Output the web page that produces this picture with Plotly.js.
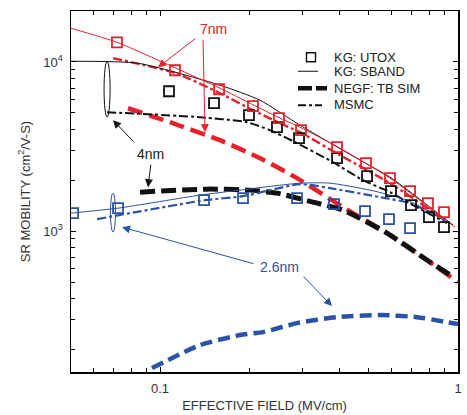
<!DOCTYPE html>
<html>
<head>
<meta charset="utf-8">
<script src="https://cdn.plot.ly/plotly-3.0.1.min.js"></script>
<style>
html,body{margin:0;padding:0;background:#fff;}
#chart{width:467px;height:415px;}
</style>
</head>
<body>
<div id="chart"></div>
<script>
// ---- KG: UTOX (open squares) ----
var utox7nmField = [0.0717, 0.1123, 0.1578, 0.2051, 0.2507, 0.2973, 0.3927, 0.4913, 0.5912, 0.6903, 0.7930, 0.8973];
var utox7nmMob   = [13070, 8930, 6898, 5475, 4649, 3950, 3135, 2522, 2056, 1723, 1463, 1295];
var utox4nmField = [0.1072, 0.1518, 0.1989, 0.2469, 0.2928, 0.3927, 0.4951, 0.5958, 0.6956, 0.7991, 0.8973];
var utox4nmMob   = [6713, 5702, 4843, 4114, 3543, 2699, 2113, 1723, 1424, 1210, 1056];
var utox26Field  = [0.0511, 0.0723, 0.1405, 0.1899, 0.2883, 0.3837, 0.4875, 0.5867, 0.6903];
var utox26Mob    = [1277, 1367, 1524, 1566, 1566, 1443, 1313, 1177, 1041];

// ---- KG: SBAND (thin solid) ----
var sband4nmField = [0.0503, 0.0844, 0.159, 0.2166, 0.295, 0.469, 0.5912, 0.9621];
var sband4nmMob   = [10090, 9824, 7285, 5940, 4227, 2627, 2084, 1085];
var sband7nmField = [0.0503, 0.0717, 0.1132, 0.159, 0.2035, 0.2489, 0.295, 0.4018, 0.5912, 0.977];
var sband7nmMob   = [15810, 13070, 9180, 6992, 5624, 4714, 4114, 3092, 2056, 1056];
var sband26Field  = [0.0503, 0.0723, 0.1362, 0.1855, 0.295, 0.3719, 0.5067, 0.6746, 0.9186];
var sband26Mob    = [1277, 1367, 1632, 1747, 1921, 1921, 1747, 1524, 1130];

// ---- NEGF: TB SIM (thick dashed) ----
var negf7nmField = [0.0781, 0.108, 0.159, 0.2166, 0.2883, 0.4112, 0.5776, 0.7286, 1.0];
var negf7nmMob   = [5326, 4403, 3448, 2699, 2056, 1386, 973, 741, 500];
var negf4nmField = [0.0857, 0.1438, 0.2005, 0.2469, 0.3262, 0.4112, 0.5776, 0.8054, 0.9548];
var negf4nmMob   = [1700, 1771, 1747, 1677, 1483, 1331, 973, 656, 542];
var negf26Field  = [0.0940, 0.1362, 0.1855, 0.2216, 0.2883, 0.3927, 0.5473, 0.7286, 1.0];
var negf26Mob    = [155, 212, 243, 253, 286, 310, 319, 310, 282];

// ---- MSMC (dash-dot) ----
var msmc7nmField = [0.0696, 0.1132, 0.159, 0.2051, 0.2527, 0.295, 0.4018, 0.5912, 0.9044];
var msmc7nmMob   = [10520, 8577, 6533, 5185, 4344, 3844, 2811, 1921, 1161];
var msmc4nmField = [0.0664, 0.1362, 0.1959, 0.2339, 0.2838, 0.3806, 0.4800, 0.5912, 0.7063, 0.9186];
var msmc4nmMob   = [5045, 4714, 4403, 3950, 3356, 2556, 2001, 1700, 1424, 1115];
var msmc26Field  = [0.0615, 0.1416, 0.1899, 0.295, 0.3719, 0.5473, 0.6903, 0.9186];
var msmc26Mob    = [1177, 1524, 1609, 1895, 1795, 1588, 1463, 1161];

// ---- ticks ----
var xTickVals = [0.1, 1];
var xTickText = ['0.1', '1'];
var xMinorVals = [0.06, 0.07, 0.08, 0.09, 0.2, 0.3, 0.4, 0.5, 0.6, 0.7, 0.8, 0.9];
var yTickVals = [1000, 10000];
var yTickText = ['10<sup>3</sup>', '10<sup>4</sup>'];
var yMinorVals = [200, 300, 400, 500, 600, 700, 800, 900, 2000, 3000, 4000, 5000, 6000, 7000, 8000, 9000, 20000];

var legendLabels = ['KG: UTOX', 'KG: SBAND', 'NEGF: TB SIM', 'MSMC'];

var RED = '#e8202a', BLUE = '#2a52a6', BLACK = '#111111';
var DASHDOT = '9px,3px,3px,3px';

function sq(x, y, c) {
  return {x: x, y: y, type: 'scatter', mode: 'markers', showlegend: false,
    marker: {symbol: 'square-open', size: 10, color: c, line: {width: 1.8, color: c}}};
}
function ln(x, y, c, w, dash) {
  return {x: x, y: y, type: 'scatter', mode: 'lines', showlegend: false,
    line: {color: c, width: w, dash: dash || 'solid', shape: 'spline', smoothing: 0.6}};
}

var data = [
  ln(negf26Field, negf26Mob, BLUE, 4.5, '12px,6px'),
  ln(negf7nmField, negf7nmMob, RED, 4.5, '15px,7px'),
  ln(negf4nmField, negf4nmMob, BLACK, 5, '15px,6px'),
  ln(msmc26Field, msmc26Mob, BLUE, 2.2, DASHDOT),
  ln(msmc4nmField, msmc4nmMob, BLACK, 2, DASHDOT),
  ln(msmc7nmField, msmc7nmMob, RED, 2.4, DASHDOT),
  ln(sband26Field, sband26Mob, BLUE, 1, 'solid'),
  ln(sband4nmField, sband4nmMob, BLACK, 1, 'solid'),
  ln(sband7nmField, sband7nmMob, RED, 1, 'solid'),
  sq(utox26Field, utox26Mob, BLUE),
  sq(utox4nmField, utox4nmMob, BLACK),
  sq(utox7nmField, utox7nmMob, RED)
];

var FONT = 'Liberation Sans, Arial, sans-serif';

function arrow(x, y, ax, ay, c) {
  return {x: x, y: y, ax: ax, ay: ay, xref: 'x', yref: 'y', axref: 'x', ayref: 'y',
    showarrow: true, arrowhead: 2, arrowsize: 1.6, arrowwidth: 1, arrowcolor: c, standoff: 0, text: ''};
}
function label(x, y, t, c) {
  return {x: x, y: y, xref: 'x', yref: 'y', text: t, showarrow: false,
    font: {family: FONT, size: 14, color: c}};
}

var annotations = [
  label(-0.8221, 4.1931, '7nm', RED),
  arrow(-1.0067, 3.9687, -0.8758, 4.1459, RED),
  arrow(-0.849, 3.5848, -0.8557, 4.14, RED),
  label(-1.0336, 3.4548, '4nm', '#222'),
  arrow(-1.1577, 3.6556, -1.0839, 3.5198, BLACK),
  arrow(-1.0403, 3.2599, -1.0302, 3.4017, BLACK),
  label(-0.6007, 2.7874, '2.6nm', BLUE),
  arrow(-1.1275, 3.0236, -0.6812, 2.8051, BLUE),
  arrow(-0.4228, 2.557, -0.5235, 2.7401, BLUE)
];
// manual legend text
var legY = [0.8718, 0.8331, 0.7861, 0.7418];
legendLabels.forEach(function (t, i) {
  annotations.push({x: 0.6744, y: legY[i], xref: 'paper', yref: 'paper', xanchor: 'left', yanchor: 'middle',
    text: t, showarrow: false, font: {family: FONT, size: 13, color: '#222'}});
});

var shapes = [
  {type: 'circle', xref: 'x', yref: 'y', x0: 0.0649, x1: 0.0680, y0: 4714, y1: 10090, line: {color: BLACK, width: 1}},
  {type: 'circle', xref: 'x', yref: 'y', x0: 0.0682, x1: 0.0709, y0: 987, y1: 1677, line: {color: BLUE, width: 1}},
  // legend symbols
  {type: 'rect', xref: 'paper', yref: 'paper', x0: 0.6085, x1: 0.6318, y0: 0.8594, y1: 0.8843, line: {color: BLACK, width: 1.4}},
  {type: 'line', xref: 'paper', yref: 'paper', x0: 0.5866, x1: 0.6382, y0: 0.8331, y1: 0.8331, line: {color: BLACK, width: 1}},
  {type: 'line', xref: 'paper', yref: 'paper', x0: 0.5866, x1: 0.6615, y0: 0.7861, y1: 0.7861, line: {color: BLACK, width: 4.5, dash: '14px,4px'}},
  {type: 'line', xref: 'paper', yref: 'paper', x0: 0.5866, x1: 0.6486, y0: 0.739, y1: 0.739, line: {color: BLACK, width: 2, dash: '8px,3px,3px,3px'}}
];

var axisCommon = {
  type: 'log', showgrid: false, zeroline: false, showline: true, linecolor: '#000', linewidth: 1.5,
  mirror: 'ticks', ticks: 'inside', ticklen: 5, tickwidth: 1, tickcolor: '#000',
  tickmode: 'array', tickfont: {family: FONT, size: 13, color: '#333'}
};

var layout = {
  width: 467, height: 415,
  margin: {l: 71, r: 9, t: 11, b: 43},
  paper_bgcolor: '#fff', plot_bgcolor: '#fff',
  showlegend: false,
  font: {family: FONT, color: '#333'},
  xaxis: Object.assign({}, axisCommon, {
    range: [-1.2987, 0], tickvals: xTickVals, ticktext: xTickText, ticklabelstandoff: 4,
    minor: {tickmode: 'array', tickvals: xMinorVals, ticks: 'inside', ticklen: 4, tickwidth: 1, tickcolor: '#000', showgrid: false},
    title: {text: 'EFFECTIVE FIELD (MV/cm)', font: {family: FONT, size: 13, color: '#333'}, standoff: 6}
  }),
  yaxis: Object.assign({}, axisCommon, {
    range: [2.1672, 4.3012], tickvals: yTickVals, ticktext: yTickText, ticklabelstandoff: 4,
    minor: {tickmode: 'array', tickvals: yMinorVals, ticks: 'inside', ticklen: 4, tickwidth: 1, tickcolor: '#000', showgrid: false},
    title: {text: 'SR MOBILITY (cm<sup>2</sup>/V-S)', font: {family: FONT, size: 13, color: '#333'}, standoff: 10}
  }),
  annotations: annotations,
  shapes: shapes
};

Plotly.newPlot('chart', data, layout, {displayModeBar: false, staticPlot: true});
</script>
</body>
</html>
